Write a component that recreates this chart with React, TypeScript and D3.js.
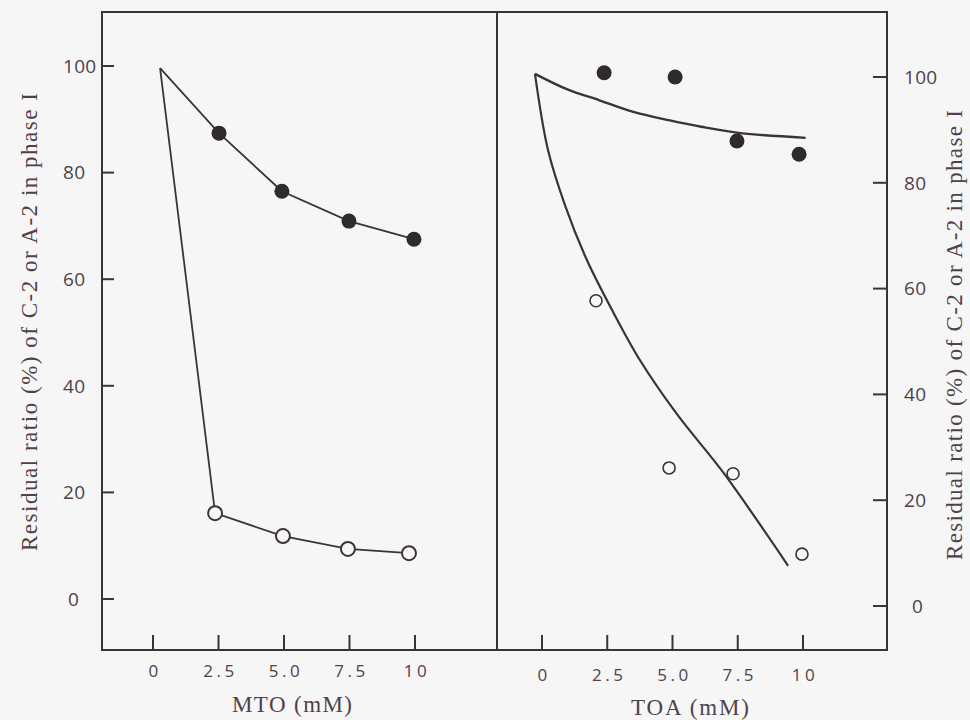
import React from "react";
import * as d3 from "d3";

// ---- data ----
const xTickValues = [0, 2.5, 5.0, 7.5, 10];
const xTickLabels = ["0", "2.5", "5.0", "7.5", "10"];
const yTickValues = [0, 20, 40, 60, 80, 100];

// MTO panel (left)
const mtoOrigin = [0.27, 99.6];
const mtoFilledX = [2.52, 4.92, 7.48, 9.96];
const mtoFilledY = [87.4, 76.5, 70.9, 67.5];
const mtoOpenX = [2.37, 4.96, 7.44, 9.77];
const mtoOpenY = [16.1, 11.8, 9.4, 8.6];

// TOA panel (right)
const toaFilledX = [2.38, 5.1, 7.47, 9.85];
const toaFilledY = [100.8, 100.0, 87.9, 85.4];
const toaOpenX = [2.07, 4.87, 7.32, 9.96];
const toaOpenY = [57.7, 26.1, 25.0, 9.8];
const toaUpperFitX = [-0.27, 1.0, 2.2, 3.5, 4.9, 6.1, 7.6, 10.1];
const toaUpperFitY = [100.6, 97.6, 95.6, 93.4, 91.8, 90.6, 89.4, 88.5];
const toaLowerFitX = [-0.27, 0.23, 0.88, 1.72, 2.68, 3.75, 5.15, 6.95, 9.43];
const toaLowerFitY = [100.6, 86.2, 75.8, 65.4, 56.0, 46.5, 36.4, 25.2, 7.6];

const yTitle = "Residual ratio (%) of C-2 or A-2 in phase I";

const INK = "#3c3336";
const TXT = "#4e4248";
const BG = "#f6f6f7";

export default function App() {
  // frame
  const L = 102, M = 497, R = 887, T = 12, B = 650;

  const xL = d3.scaleLinear().domain([0, 10]).range([153, 415]);
  const yL = d3.scaleLinear().domain([0, 100]).range([599, 66]);
  const xR = d3.scaleLinear().domain([0, 10]).range([542, 803]);
  const yR = d3.scaleLinear().domain([0, 100]).range([606, 77]);

  const zip = (xs: number[], ys: number[]) => xs.map((x, i) => [x, ys[i]] as [number, number]);

  const lineL = d3.line<[number, number]>().x((d) => xL(d[0])).y((d) => yL(d[1]));
  const lineR = d3
    .line<[number, number]>()
    .x((d) => xR(d[0]))
    .y((d) => yR(d[1]))
    .curve(d3.curveCatmullRom.alpha(0.5));

  const mtoFilled = zip(mtoFilledX, mtoFilledY);
  const mtoOpen = zip(mtoOpenX, mtoOpenY);
  const origin: [number, number] = [mtoOrigin[0], mtoOrigin[1]];

  const tickFont = "'Open Sans', 'DejaVu Sans', sans-serif";
  const titleFont = "'Liberation Serif', 'DejaVu Serif', serif";

  return (
    <svg
      width={970}
      height={720}
      style={{ position: "absolute", left: 0, top: 0, background: BG }}
    >
      <rect x={0} y={0} width={970} height={720} fill={BG} />
      {/* frame */}
      <rect x={L} y={T} width={R - L} height={B - T} fill="none" stroke={INK} strokeWidth={2} />
      <line x1={M} x2={M} y1={T} y2={B} stroke={INK} strokeWidth={2} />

      {/* left y ticks */}
      {yTickValues.map((v) => (
        <g key={"ly" + v}>
          <line x1={L} x2={L + 12} y1={yL(v)} y2={yL(v)} stroke={INK} strokeWidth={2} />
          <text
            x={v === 0 ? 68 : 63}
            y={yL(v)}
            dy="0.36em"
            fontFamily={tickFont}
            fontSize={19}
            letterSpacing={0.3}
            fill={TXT}
          >
            {String(v)}
          </text>
        </g>
      ))}
      {/* right y ticks */}
      {yTickValues.map((v) => (
        <g key={"ry" + v}>
          <line x1={R - 14} x2={R} y1={yR(v)} y2={yR(v)} stroke={INK} strokeWidth={2} />
          <text
            x={v === 0 ? 912 : 904}
            y={yR(v)}
            dy="0.36em"
            fontFamily={tickFont}
            fontSize={19}
            letterSpacing={0.3}
            fill={TXT}
          >
            {String(v)}
          </text>
        </g>
      ))}

      {/* bottom ticks left */}
      {xTickValues.map((v, i) => (
        <g key={"lx" + v}>
          <line x1={xL(v)} x2={xL(v)} y1={B} y2={B - 15} stroke={INK} strokeWidth={2} />
          <text
            x={xL(v) + 2}
            y={677}
            textAnchor="middle"
            fontFamily={tickFont}
            fontSize={17}
            letterSpacing={3.5}
            fill={TXT}
          >
            {xTickLabels[i]}
          </text>
        </g>
      ))}
      {/* bottom ticks right */}
      {xTickValues.map((v, i) => (
        <g key={"rx" + v}>
          <line x1={xR(v)} x2={xR(v)} y1={B} y2={B - 15} stroke={INK} strokeWidth={2} />
          <text
            x={xR(v) + 2}
            y={681}
            textAnchor="middle"
            fontFamily={tickFont}
            fontSize={17}
            letterSpacing={3.5}
            fill={TXT}
          >
            {xTickLabels[i]}
          </text>
        </g>
      ))}

      {/* x titles */}
      <text x={292} y={712} textAnchor="middle" fontFamily={titleFont} fontSize={23} fill={TXT}
        textLength={120} lengthAdjust="spacing">
        MTO (mM)
      </text>
      <text x={690} y={715} textAnchor="middle" fontFamily={titleFont} fontSize={23} fill={TXT}
        textLength={118} lengthAdjust="spacing">
        TOA (mM)
      </text>

      {/* y titles */}
      <text
        transform="translate(37,322) rotate(-90)"
        textAnchor="middle"
        fontFamily={titleFont}
        fontSize={23}
        fill={TXT}
        textLength={458}
        lengthAdjust="spacing"
      >
        {yTitle}
      </text>
      <text
        transform="translate(962,335) rotate(-90)"
        textAnchor="middle"
        fontFamily={titleFont}
        fontSize={23}
        fill={TXT}
        textLength={450}
        lengthAdjust="spacing"
      >
        {yTitle}
      </text>

      {/* MTO lines */}
      <path d={lineL([origin, ...mtoFilled]) || ""} fill="none" stroke={INK} strokeWidth={1.8} />
      <path d={lineL([origin, ...mtoOpen]) || ""} fill="none" stroke={INK} strokeWidth={1.8} />
      {mtoFilled.map((d, i) => (
        <circle key={"mf" + i} cx={xL(d[0])} cy={yL(d[1])} r={7.5} fill="#2f2a2c" />
      ))}
      {mtoOpen.map((d, i) => (
        <circle key={"mo" + i} cx={xL(d[0])} cy={yL(d[1])} r={7} fill={BG} stroke={INK} strokeWidth={2} />
      ))}

      {/* TOA curves */}
      <path d={lineR(zip(toaUpperFitX, toaUpperFitY)) || ""} fill="none" stroke={INK} strokeWidth={2.4} />
      <path d={lineR(zip(toaLowerFitX, toaLowerFitY)) || ""} fill="none" stroke={INK} strokeWidth={2.2} />
      {zip(toaFilledX, toaFilledY).map((d, i) => (
        <circle key={"tf" + i} cx={xR(d[0])} cy={yR(d[1])} r={7.5} fill="#2f2a2c" />
      ))}
      {zip(toaOpenX, toaOpenY).map((d, i) => (
        <circle key={"to" + i} cx={xR(d[0])} cy={yR(d[1])} r={6} fill={BG} stroke={INK} strokeWidth={1.6} />
      ))}
    </svg>
  );
}
